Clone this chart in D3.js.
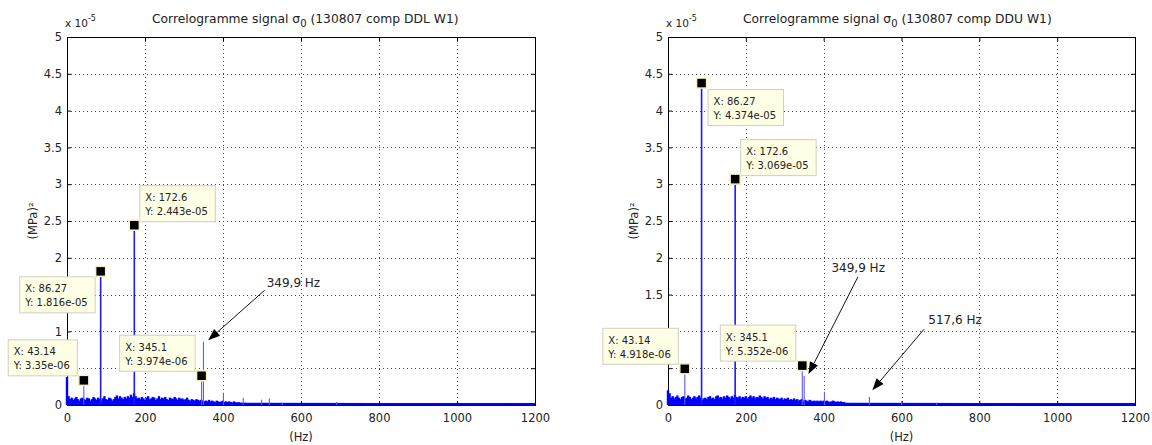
<!DOCTYPE html>
<html><head><meta charset="utf-8">
<script src="https://cdn.jsdelivr.net/npm/d3@7"></script>
<style>
html,body{margin:0;padding:0;background:#fff;}
svg{display:block;}
text{font-family:"DejaVu Sans",sans-serif;fill:#222;}
</style></head>
<body><svg id="c" width="1152" height="445"></svg>
<script>
// ---------- DATA ----------
const xTicks = [0, 200, 400, 600, 800, 1000, 1200];
const yTicks = [0, 0.5, 1, 1.5, 2, 2.5, 3, 3.5, 4, 4.5, 5];
const yExponent = "-5";
const xLabel = "(Hz)";
const yLabel = "(MPa)²";
const titlePrefix = "Correlogramme signal σ";
const titleSub = "0";
const titleSuffix = [" (130807 comp DDL W1)", " (130807 comp DDU W1)"];

// noise spectrum, values in 1e-5 (MPa)², sampled every noiseStep Hz from 0
const noiseStep = 4;
const noiseLeft = [0.38,0.12,0.08,0.1,0.07,0.09,0.11,0.08,0.06,0.09,0.1,0.08,0.07,0.1,0.09,0.06,0.08,0.11,0.09,0.07,
0.1,0.08,0.06,0.09,0.12,0.08,0.07,0.1,0.09,0.06,0.08,0.11,0.13,0.09,0.12,0.1,0.08,0.11,0.09,0.12,
0.1,0.14,0.11,0.16,0.12,0.09,0.1,0.08,0.11,0.09,0.07,0.1,0.12,0.08,0.09,0.11,0.1,0.07,0.09,0.12,
0.08,0.1,0.09,0.11,0.08,0.07,0.1,0.09,0.08,0.11,0.09,0.07,0.1,0.08,0.09,0.07,0.08,0.1,0.07,0.06,
0.08,0.07,0.06,0.08,0.07,0.06,0.07,0.06,0.05,0.06,0.05,0.07,0.05,0.06,0.05,0.04,0.06,0.05,0.04,0.05,
0.06,0.04,0.05,0.04,0.05,0.04,0.03,0.05,0.04,0.03,0.04,0.03,0.03,0.02,0.03,0.02];
const noiseRight = [0.2,0.16,0.1,0.12,0.09,0.11,0.13,0.1,0.08,0.11,0.12,0.09,0.1,0.13,0.11,0.08,0.1,0.12,0.09,0.11,
0.13,0.1,0.07,0.09,0.1,0.08,0.11,0.12,0.09,0.1,0.08,0.12,0.13,0.1,0.11,0.09,0.12,0.1,0.13,0.11,
0.09,0.12,0.1,0.14,0.11,0.1,0.12,0.09,0.11,0.1,0.12,0.09,0.11,0.13,0.1,0.12,0.09,0.11,0.1,0.13,
0.11,0.09,0.12,0.1,0.11,0.08,0.1,0.09,0.11,0.08,0.1,0.09,0.08,0.1,0.07,0.09,0.08,0.1,0.07,0.08,
0.07,0.09,0.07,0.08,0.06,0.07,0.08,0.06,0.07,0.06,0.05,0.07,0.06,0.05,0.06,0.05,0.06,0.05,0.06,0.05,
0.06,0.05,0.06,0.05,0.04,0.05,0.06,0.05,0.04,0.05,0.04,0.05,0.04,0.04,0.03,0.02];

// floor line (1e-5)
const floorFreq = [0, 460, 800, 1200];
const floorLeft = [0.015, 0.015, 0.012, 0.01];
const floorRight = [0.015, 0.015, 0.012, 0.01];

// spectral lines (Hz, 1e-5)
const peakFreqLeft = [43.14, 86.27, 172.6, 345.1, 349.9, 401.2, 452.0, 499.0, 518.8, 552.0, 691.5];
const peakValLeft  = [0.335, 1.816, 2.443, 0.3974, 0.86, 0.167, 0.10, 0.07, 0.09, 0.03, 0.04];
const peakFreqRight = [43.14, 86.27, 172.6, 345.1, 349.9, 402.0, 517.6, 600.0, 690.6];
const peakValRight  = [0.4918, 4.374, 3.069, 0.5352, 0.394, 0.18, 0.11, 0.03, 0.03];

// data tips
const tipXLeft = ["43.14", "86.27", "172.6", "345.1"];
const tipYLeft = ["3.35e-06", "1.816e-05", "2.443e-05", "3.974e-06"];
const tipXRight = ["43.14", "86.27", "172.6", "345.1"];
const tipYRight = ["4.918e-06", "4.374e-05", "3.069e-05", "5.352e-06"];

// annotations
const annLabelLeft = ["349,9 Hz"];
const annLabelRight = ["349,9 Hz", "517,6 Hz"];

// ---------- LAYOUT ----------
const svg = d3.select("#c");
const plotTop = 37, plotBottom = 405, plotH = plotBottom - plotTop;

const panels = [
  {left: 67, width: 468, titleX: 85, title: titleSuffix[0],
   noise: noiseLeft, floor: floorLeft, pf: peakFreqLeft, pv: peakValLeft,
   tipX: tipXLeft, tipY: tipYLeft, tipPlace: ["ul", "ll", "ur", "ul"],
   ann: annLabelLeft,
   annText: [[512, 1.61]], annFrom: [[507, 1.56]], annTo: [[362, 0.88]]},
  {left: 668, width: 467, titleX: 75, title: titleSuffix[1],
   noise: noiseRight, floor: floorRight, pf: peakFreqRight, pv: peakValRight,
   tipX: tipXRight, tipY: tipYRight, tipPlace: ["ul", "lr", "ur", "ul"],
   ann: annLabelRight,
   annText: [[420, 1.81], [669, 1.10]], annFrom: [[488, 1.74], [658, 1.03]], annTo: [[361, 0.42], [525, 0.20]]}
];

panels.forEach(p => {
  const g = svg.append("g").attr("transform", `translate(${p.left},${plotTop})`);
  const x = d3.scaleLinear().domain([0, 1200]).range([0, p.width]);
  const y = d3.scaleLinear().domain([0, 5]).range([plotH, 0]);

  // grid
  const grid = g.append("g").attr("stroke", "#444").attr("stroke-width", 1)
    .attr("stroke-dasharray", "1,3");
  grid.selectAll(".vg").data(xTicks.slice(1, -1)).join("line")
    .attr("x1", d => Math.round(x(d)) + 0.5).attr("x2", d => Math.round(x(d)) + 0.5)
    .attr("y1", 0).attr("y2", plotH);
  grid.selectAll(".hg").data(yTicks.slice(1, -1)).join("line")
    .attr("y1", d => Math.round(y(d)) + 0.5).attr("y2", d => Math.round(y(d)) + 0.5)
    .attr("x1", 0).attr("x2", p.width);

  // frame
  g.append("rect").attr("x", 0.5).attr("y", 0.5).attr("width", p.width).attr("height", plotH)
    .attr("fill", "none").attr("stroke", "#000").attr("stroke-width", 1);

  // axes
  const axB = g.append("g").attr("transform", `translate(0,${plotH})`)
    .call(d3.axisBottom(x).tickValues(xTicks).tickSizeInner(-4).tickSizeOuter(0).tickPadding(9).tickFormat(d3.format("d")));
  const axL = g.append("g")
    .call(d3.axisLeft(y).tickValues(yTicks).tickSizeInner(-4).tickSizeOuter(0).tickPadding(5).tickFormat(d => String(d)));
  const axT = g.append("g").call(d3.axisTop(x).tickValues(xTicks).tickSizeInner(-4).tickSizeOuter(0).tickFormat(""));
  const axR = g.append("g").attr("transform", `translate(${p.width},0)`)
    .call(d3.axisRight(y).tickValues(yTicks).tickSizeInner(-4).tickSizeOuter(0).tickFormat(""));
  [axB, axL, axT, axR].forEach(a => {
    a.select(".domain").remove();
    a.selectAll("line").attr("stroke", "#000");
    a.selectAll("text").attr("font-family", "DejaVu Sans").attr("font-size", 11.5).attr("fill", "#222");
  });

  // noise stems
  g.append("g").selectAll("line").data(p.noise).join("line")
    .attr("x1", (d, i) => x(i * noiseStep)).attr("x2", (d, i) => x(i * noiseStep))
    .attr("y1", y(0)).attr("y2", d => y(d))
    .attr("stroke", "#0000ff").attr("stroke-width", 2.4);

  // floor line
  g.append("path").datum(floorFreq.map((f, i) => [f, p.floor[i]]))
    .attr("d", d3.line().x(d => x(d[0])).y(d => y(d[1])))
    .attr("fill", "none").attr("stroke", "#0000ff").attr("stroke-width", 2.4);

  // peaks
  g.append("g").selectAll("line").data(p.pf).join("line")
    .attr("x1", d => x(d)).attr("x2", d => x(d))
    .attr("y1", y(0)).attr("y2", (d, i) => y(p.pv[i]))
    .attr("stroke", (d, i) => p.pv[i] > 1 ? "#1a1aff" : "#5a5aff")
    .attr("stroke-width", (d, i) => p.pv[i] > 1 ? 1.6 : 1.1);

  // axis decorations
  const ex = g.append("text").attr("x", -2).attr("y", -10).attr("font-size", 10.5);
  ex.append("tspan").text("x 10");
  ex.append("tspan").attr("dy", -6).attr("font-size", 8).text(yExponent);

  const t = g.append("text").attr("x", p.titleX).attr("y", -14).attr("font-size", 12.3);
  t.append("tspan").text(titlePrefix);
  t.append("tspan").attr("dy", 4).attr("font-size", 10).text(titleSub);
  t.append("tspan").attr("dy", -4).text(p.title);

  g.append("text").attr("x", p.width / 2).attr("y", plotH + 36).attr("text-anchor", "middle")
    .attr("font-size", 11.5).text(xLabel);
  g.append("text").attr("transform", `translate(-30,${plotH / 2}) rotate(-90)`)
    .attr("text-anchor", "middle").attr("font-size", 11.5).text(yLabel);

  // data tips
  const boxes = [];
  p.tipX.forEach((tx, i) => {
    const mx = x(p.pf[i]), my = y(p.pv[i]);
    const tg = g.append("g");
    const rect = tg.append("rect");
    const t1 = tg.append("text").attr("font-size", 10).attr("fill", "#222").text("X: " + tx);
    const t2 = tg.append("text").attr("font-size", 10).attr("fill", "#222").text("Y: " + p.tipY[i]);
    const w = Math.max(t1.node().getComputedTextLength(), t2.node().getComputedTextLength()) + 13;
    const h = 36;
    let bx, by;
    const pl = p.tipPlace[i];
    if (pl === "ur") { bx = mx + 5; by = my - 4 - h; }
    else if (pl === "ul") { bx = mx - 7 - w; by = my - 5 - h; }
    else if (pl === "ll") { bx = mx - 6 - w; by = my + 5; }
    else { bx = mx + 6; by = my + 6; }
    boxes.push([bx, by, w, h]);
    rect.attr("x", bx + 0.5).attr("y", by + 0.5).attr("width", w).attr("height", h)
      .attr("fill", "#ffffe6").attr("stroke", "#cfcfbf").attr("stroke-width", 1);
    t1.attr("x", bx + 6).attr("y", by + 16);
    t2.attr("x", bx + 6).attr("y", by + 30);
    g.append("rect").attr("x", mx - 5).attr("y", my - 5).attr("width", 10).attr("height", 10)
      .attr("fill", "#000").attr("stroke", "#f6f0c4").attr("stroke-width", 1.5);
  });

  // tick labels hidden behind opaque data tips (as in the reference)
  axL.selectAll(".tick").each(function () {
    const tick = d3.select(this);
    const txt = tick.select("text").node();
    const bb = txt.getBBox();
    const ty = y(tick.datum());
    const x0 = bb.x, x1 = bb.x + bb.width, y0 = ty + bb.y, y1 = ty + bb.y + bb.height;
    if (boxes.some(b => x1 > b[0] && x0 < b[0] + b[2] && y1 > b[1] + 2 && y0 < b[1] + b[3] - 2)) {
      tick.select("text").remove();
    }
  });

  // annotations with arrows
  p.ann.forEach((lab, i) => {
    g.append("text").attr("x", x(p.annText[i][0])).attr("y", y(p.annText[i][1]))
      .attr("font-size", 12).attr("fill", "#222").text(lab);
    const x0 = x(p.annFrom[i][0]), y0 = y(p.annFrom[i][1]);
    const x1 = x(p.annTo[i][0]), y1 = y(p.annTo[i][1]);
    const dx = x1 - x0, dy = y1 - y0, L = Math.hypot(dx, dy);
    const ux = dx / L, uy = dy / L, hl = 12, hw = 4.5;
    const bxp = x1 - ux * hl, byp = y1 - uy * hl;
    g.append("line").attr("x1", x0).attr("y1", y0).attr("x2", bxp).attr("y2", byp)
      .attr("stroke", "#111").attr("stroke-width", 1);
    g.append("path").attr("d", `M${x1},${y1}L${bxp - uy * hw},${byp + ux * hw}L${bxp + uy * hw},${byp - ux * hw}Z`)
      .attr("fill", "#000");
  });
});
</script>
</body></html>
